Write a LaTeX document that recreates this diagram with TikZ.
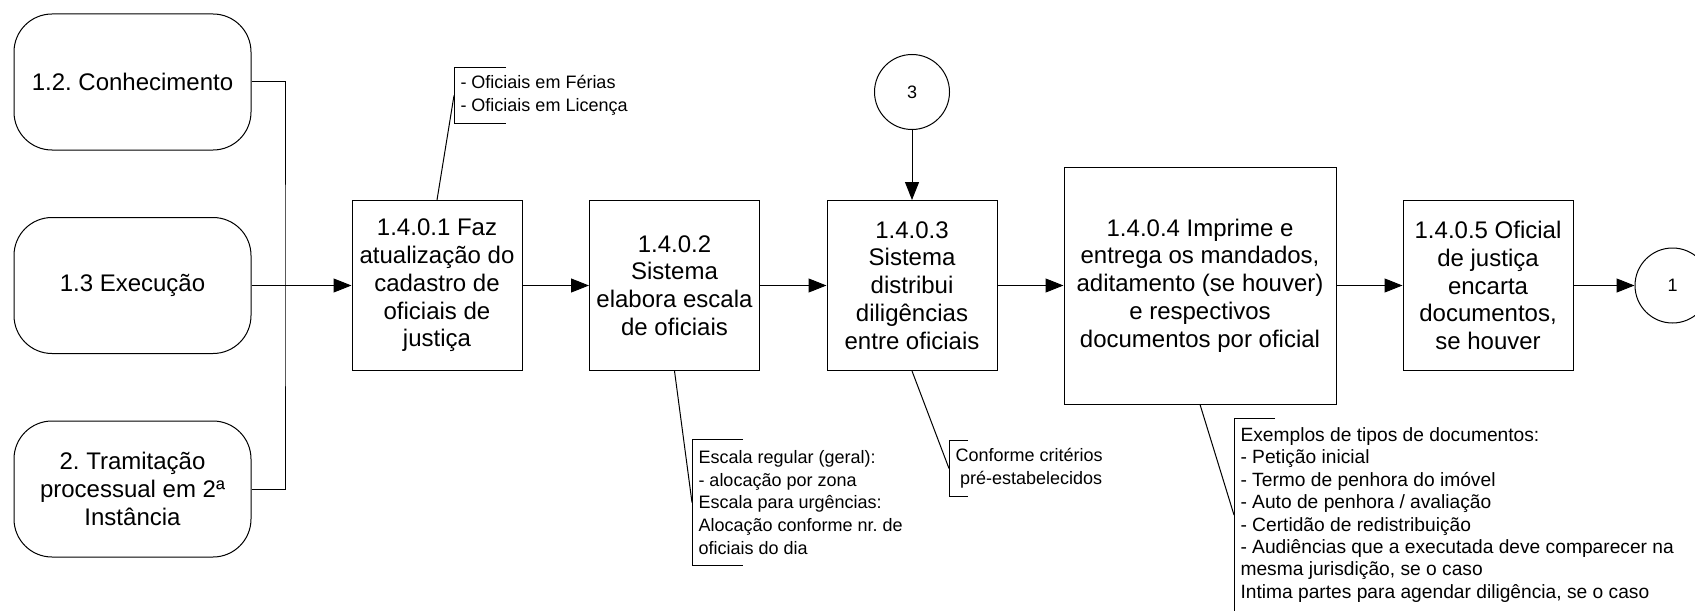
\documentclass[tikz,border=0pt]{standalone}
\usepackage{fontspec}
\setmainfont{Liberation Sans}
\usetikzlibrary{arrows.meta}
\tikzset{
  terminal/.style={draw, rounded corners=19pt, minimum width=118.5pt, minimum height=68pt,
    align=center, font=\fontsize{12}{13.9}\selectfont},
  process/.style={draw, minimum width=85pt, minimum height=85pt,
    align=center, font=\fontsize{12}{13.9}\selectfont},
  offpage/.style={draw, circle, minimum size=37.5pt, inner sep=0pt, font=\fontsize{9}{10}\selectfont},
  remark/.style={anchor=west, align=left, inner xsep=3pt, inner ysep=0pt,
    font=\fontsize{9}{11.3}\selectfont},
  flow/.style={-{Triangle[length=9pt,width=7pt]}},
}
\begin{document}
\frenchspacing
\begin{tikzpicture}[x=0.5pt, y=-0.5pt, line width=0.5pt]
  \useasboundingbox (0,0) rectangle (1695,610);

  % Entry points
  \node[terminal] (t12) at (132.5, 82) {1.2. Conhecimento};
  \node[terminal] (t13) at (132.5, 285.5) {1.3 Execução};
  \node[terminal] (t2) at (132.5, 489) {2. Tramitação\\processual em 2ª\\Instância};

  % Process steps
  \node[process] (p1) at (437, 285.5) {1.4.0.1 Faz\\atualização do\\cadastro de\\oficiais de\\justiça};
  \node[process] (p2) at (674.5, 285.5) {1.4.0.2\\Sistema\\elabora escala\\de oficiais};
  \node[process] (p3) at (912, 285.5) {1.4.0.3\\Sistema\\distribui\\diligências\\entre oficiais};
  \node[process, minimum width=136pt, minimum height=118.5pt] (p4) at (1200, 285.5)
    {1.4.0.4 Imprime e\\entrega os mandados,\\aditamento (se houver)\\e respectivos\\documentos por oficial};
  \node[process] (p5) at (1488, 285.5) {1.4.0.5 Oficial\\de justiça\\encarta\\documentos,\\se houver};

  % Off-page connectors
  \node[offpage] (c3) at (912, 92) {3};
  \node[offpage] (c1) at (1672.5, 285.5) {1};

  % Annotations
  \node[remark, minimum height=27.5pt] (n1) at (454, 95.5) {- Oficiais em Férias\\- Oficiais em Licença};
  \node[remark, minimum height=62.5pt] (n2) at (692, 502.5)
    {Escala regular (geral):\\- alocação por zona\\Escala para urgências:\\Alocação conforme nr. de\\oficiais do dia};
  \node[remark, minimum height=27.5pt] (n3) at (949, 468.5) {Conforme critérios\\\hspace*{0.25em}pré-estabelecidos};
  \node[remark, minimum height=96pt, font=\fontsize{9.6}{11.2}\selectfont] (n4) at (1234, 515)
    {Exemplos de tipos de documentos:\\- Petição inicial\\- Termo de penhora do imóvel\\- Auto de penhora / avaliação\\- Certidão de redistribuição\\- Audiências que a executada deve comparecer na\\mesma jurisdição, se o caso\\Intima partes para agendar diligência, se o caso};

  \foreach \n/\arm in {n1/26pt, n2/25.5pt, n3/9.5pt, n4/20.5pt} {
    \draw (\n.north west) ++(\arm,0) -- (\n.north west) -- (\n.south west) -- ++(\arm,0);
  }

  % Flow
  \coordinate (jn) at (285, 285.5);
  \draw (t12.east) -| (jn) |- (t2.east);
  \draw[flow] (t13.east) -- (p1.west);
  \draw[flow] (p1.east) -- (p2.west);
  \draw[flow] (p2.east) -- (p3.west);
  \draw[flow] (p3.east) -- (p4.west);
  \draw[flow] (p4.east) -- (p5.west);
  \draw[flow] (p5.east) -- (c1.west);
  \draw[flow] (c3.south) -- (p3.north);

  % Leaders to annotations
  \draw (p1.north) -- (n1.west);
  \draw (p2.south) -- (n2.west);
  \draw (p3.south) -- (n3.west);
  \draw (p4.south) -- (n4.west);
\end{tikzpicture}
\end{document}
